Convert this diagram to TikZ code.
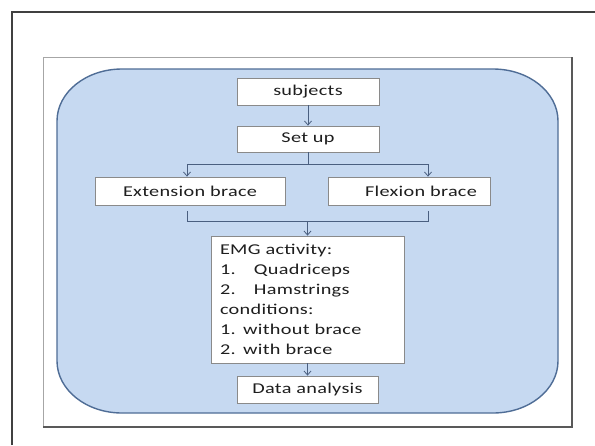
\documentclass[tikz,border=0pt]{standalone}
\usepackage{fontspec}
\setmainfont{Carlito}[FakeStretch=1.35,LetterSpace=2]
\usetikzlibrary{arrows.meta}

\definecolor{panelfill}{HTML}{C6D9F1}
\definecolor{paneldraw}{HTML}{4F6D96}
\definecolor{linkcol}{HTML}{4A5F80}
\definecolor{boxline}{HTML}{8A8A8A}
\definecolor{textcol}{HTML}{1E1E1E}

\tikzset{
  stepbox/.style={draw=boxline, fill=white, line width=0.8pt, inner sep=0pt,
    text=textcol, font=\fontsize{15}{20}\selectfont},
  link/.style={draw=linkcol, line width=0.8pt},
  linkarrow/.style={link, -{Straight Barb[length=4pt,width=7pt]}},
}

\begin{document}
\begin{tikzpicture}[x=1pt,y=-1pt]
  \useasboundingbox (0,0) rectangle (595,445);
  % frame and page
  \draw[line width=1.4pt, black!75] (12,445) -- (12,12) -- (595,12);
  \fill[white] (43,57) rectangle (572,427);
  \draw[line width=0.8pt, black!35] (43,427) -- (43,57) -- (572,57);
  \draw[line width=1.2pt, black!65] (572,57) -- (572,427) -- (43,427);
  % rounded panel
  \filldraw[fill=panelfill, draw=paneldraw, line width=1.4pt]
    (122,69) -- (493,69)
    arc[start angle=270, end angle=360, x radius=65, y radius=52]
    -- (558,361)
    arc[start angle=0, end angle=90, x radius=65, y radius=52]
    -- (122,413)
    arc[start angle=90, end angle=180, x radius=65, y radius=52]
    -- (57,121)
    arc[start angle=180, end angle=270, x radius=65, y radius=52]
    -- cycle;

  % steps
  \node[stepbox, minimum width=142pt, minimum height=27pt] (subjects) at (308,91.5) {subjects};
  \node[stepbox, minimum width=142pt, minimum height=26pt] (setup) at (308,139) {Set up};
  \node[stepbox, minimum width=190pt, minimum height=28pt] (ext) at (190,191) {Extension brace};
  \node[stepbox, minimum width=162pt, minimum height=28pt] (flex) at (409,191) {\hspace*{24pt}Flexion brace};
  \node[stepbox, minimum width=193pt, minimum height=127pt, text width=175pt, align=left]
    (emg) at (307.5,299.5)
    {EMG activity:\\
     \makebox[34pt][l]{1.}Quadriceps\\
     \makebox[34pt][l]{2.}Hamstrings\\
     conditions:\\
     1. without brace\\
     2. with brace};
  \node[stepbox, minimum width=141pt, minimum height=27pt] (data) at (307.5,389.5) {Data analysis};

  % split and join points
  \coordinate (splitL) at (187,164);
  \coordinate (splitR) at (428,164);
  \coordinate (joinL) at (187,221);
  \coordinate (joinR) at (428,221);
  \coordinate (joinM) at (307.5,221);

  \draw[linkarrow] (subjects) -- (setup);
  \draw[link] (setup.south) -- (setup.south |- splitL);
  \draw[link] (splitL) -- (splitR);
  \draw[linkarrow] (splitL) -- (splitL |- ext.north);
  \draw[linkarrow] (splitR) -- (splitR |- flex.north);
  \draw[link] ([yshift=-6pt]ext.south -| joinL) -- (joinL) -- (joinR)
    -- ([yshift=-6pt]flex.south -| joinR);
  \draw[linkarrow] (joinM) -- (emg.north);
  \draw[linkarrow] (emg) -- (data);
\end{tikzpicture}
\end{document}
